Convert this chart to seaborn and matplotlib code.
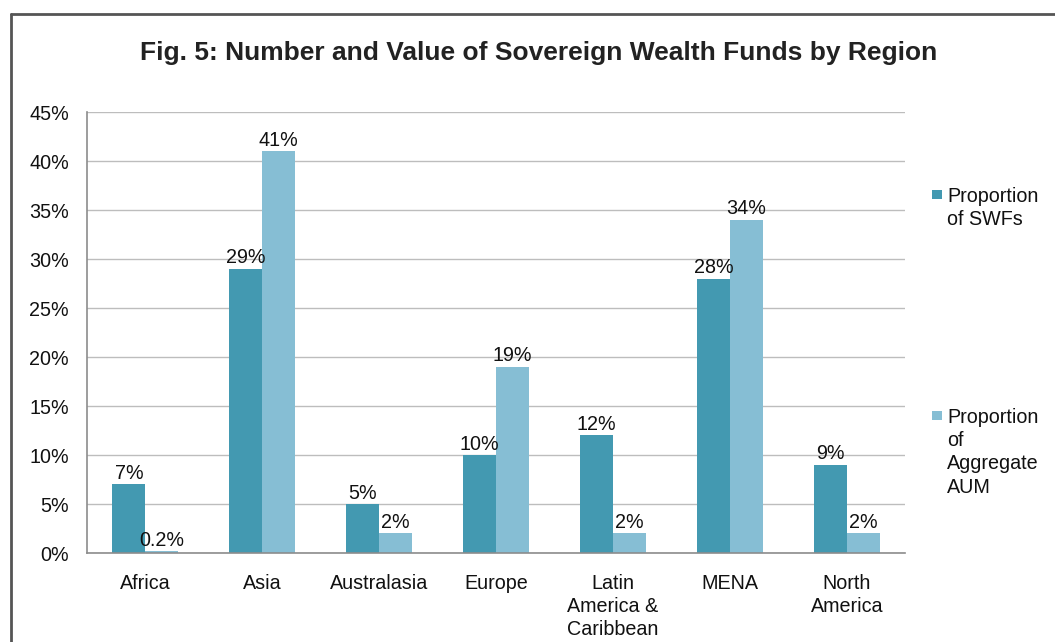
import pandas as pd
import seaborn as sns
import matplotlib.pyplot as plt
from matplotlib.lines import Line2D
from matplotlib.patches import Rectangle

# --- Data ---
regions = ["Africa", "Asia", "Australasia", "Europe",
           "Latin\nAmerica &\nCaribbean", "MENA", "North\nAmerica"]
swf_share = [7, 29, 5, 10, 12, 28, 9]
aum_share = [0.2, 41, 2, 19, 2, 34, 2]
series_names = ["Proportion\nof SWFs", "Proportion\nof\nAggregate\nAUM"]
ytick_values = [0, 5, 10, 15, 20, 25, 30, 35, 40, 45]

DARK = "#4399B1"
LIGHT = "#86BED4"
FS = 14.2

df = pd.DataFrame({
    "Region": regions * 2,
    "Series": [series_names[0]] * len(regions) + [series_names[1]] * len(regions),
    "Value": swf_share + aum_share,
})

sns.set_style("white")
plt.rcParams["font.family"] = ["Liberation Sans", "DejaVu Sans"]

fig = plt.figure(figsize=(10.55, 6.42), dpi=100)
ax = fig.add_axes([0.0825, 0.1386, 0.7755, 0.6869])

sns.barplot(data=df, x="Region", y="Value", hue="Series",
            palette=[DARK, LIGHT], saturation=1, width=0.565, gap=0,
            edgecolor="none", ax=ax, legend=False)

# value labels above each bar
for container, vals in zip(ax.containers, [swf_share, aum_share]):
    labels = [f"{v:g}%" for v in vals]
    ax.bar_label(container, labels=labels, padding=1, fontsize=FS, color="#111111")

ax.set_ylim(0, 45)
ax.set_xlim(-0.5, len(regions) - 0.5)
ax.set_yticks(ytick_values)
ax.set_yticklabels([f"{v}%" for v in ytick_values], fontsize=FS, color="#111111")
ax.tick_params(axis="x", labelsize=FS, labelcolor="#111111", length=0, pad=15)
ax.tick_params(axis="y", length=0, pad=13)
for t in ax.get_xticklabels():
    t.set_linespacing(1.28)
ax.set_xlabel("")
ax.set_ylabel("")
ax.yaxis.grid(True, color="#BDBDBD", linewidth=1)
ax.set_axisbelow(True)
for side in ["top", "right"]:
    ax.spines[side].set_visible(False)
for side in ["left", "bottom"]:
    ax.spines[side].set_color("#8C8C8C")
    ax.spines[side].set_linewidth(1.2)

# legend drawn at the right, entries spread apart as in the original
W, H = 1055, 642
for color, name, top in [(DARK, series_names[0], 190), (LIGHT, series_names[1], 411)]:
    fig.add_artist(Rectangle((932 / W, 1 - (top + 9) / H), 10 / W, 9 / H,
                             transform=fig.transFigure, facecolor=color,
                             edgecolor="none"))
    fig.text(947 / W, 1 - (top - 3) / H, name, ha="left", va="top",
             fontsize=FS, color="#111111", linespacing=1.28)

fig.text(0.511, 0.918, "Fig. 5: Number and Value of Sovereign Wealth Funds by Region",
         ha="center", va="center", fontsize=19, fontweight="bold", color="#222222")

# outer frame (only left and top edges are visible in the crop)
fig.add_artist(Line2D([0.0105, 0.0105], [0, 0.978], transform=fig.transFigure,
                      color="#555555", linewidth=2))
fig.add_artist(Line2D([0.0105, 1.0], [0.978, 0.978], transform=fig.transFigure,
                      color="#555555", linewidth=2))

fig.savefig("out.png", dpi=100)
